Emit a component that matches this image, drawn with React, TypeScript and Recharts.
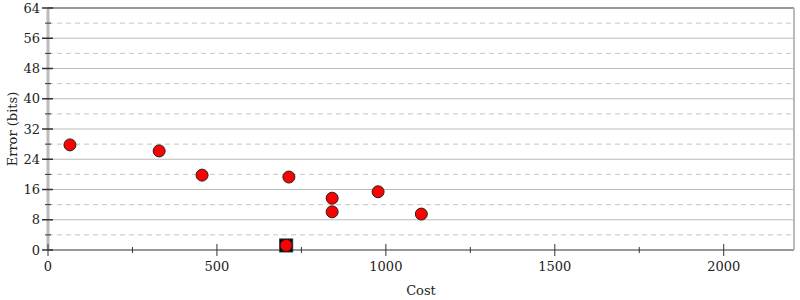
import React from 'react';
import { ScatterChart, Scatter, XAxis, YAxis, ReferenceLine } from 'recharts';

const costs = [65, 329, 456, 713, 841, 841, 977, 1105, 705];
const errors = [27.8, 26.2, 19.8, 19.3, 13.7, 10.1, 15.4, 9.5, 1.2];
const bestCost = [705];
const bestError = [1.2];

const xTicks = [0, 250, 500, 750, 1000, 1250, 1500, 1750, 2000];
const xLabels = [0, 500, 1000, 1500, 2000];
const yTicks = [0, 4, 8, 12, 16, 20, 24, 28, 32, 36, 40, 44, 48, 52, 56, 60, 64];
const yMajor = [0, 8, 16, 24, 32, 40, 48, 56, 64];
const yMinor = [4, 12, 20, 28, 36, 44, 52, 60];

const points = costs.map((c, i) => ({ cost: c, error: errors[i] }));
const best = bestCost.map((c, i) => ({ cost: c, error: bestError[i] }));

const FONT = 'DejaVu Serif, serif';
const TICK = '#333';

const LeftTick = (props: any) => {
  const { y, payload } = props;
  const major = yMajor.includes(payload.value);
  return (
    <g>
      <line x1={major ? 42 : 45} x2={major ? 53 : 51} y1={y} y2={y} stroke={TICK} strokeWidth={major ? 1.5 : 1} />
      {major && (
        <text x={40} y={y} textAnchor="end" dominantBaseline="central" fontFamily={FONT} fontSize={13} fill="#222">
          {payload.value}
        </text>
      )}
    </g>
  );
};

const RightTick = (props: any) => {
  const { y, payload } = props;
  const major = yMajor.includes(payload.value);
  return <line x1={major ? 789 : 791} x2={major ? 800 : 797} y1={y} y2={y} stroke={TICK} strokeWidth={major ? 1.5 : 1} />;
};

const BottomTick = (props: any) => {
  const { x, payload } = props;
  const major = xLabels.includes(payload.value);
  return (
    <g>
      <line x1={x} x2={x} y1={major ? 244 : 247} y2={major ? 256 : 253} stroke={TICK} strokeWidth={1} />
      {major && (
        <text x={x} y={266} textAnchor="middle" dominantBaseline="central" fontFamily={FONT} fontSize={13} fill="#222">
          {payload.value}
        </text>
      )}
    </g>
  );
};

const Dot = (props: any) => (
  <circle cx={props.cx} cy={props.cy} r={6} fill="#ff0000" stroke="#222" strokeWidth={1} />
);

const Square = (props: any) => (
  <rect x={props.cx - 6.5} y={props.cy - 6.5} width={13} height={13} fill="#000" stroke="#333" strokeWidth={1} />
);

const App = () => {
  return (
    <div style={{ position: 'absolute', left: 0, top: 0, width: 800, height: 300, background: '#fff' }}>
      <ScatterChart width={800} height={300} margin={{ top: 8, right: 0, bottom: 0, left: 0 }}>
        {yMinor.map((v) => (
          <ReferenceLine key={'m' + v} y={v} stroke="#c4c4c4" strokeDasharray="5 4" />
        ))}
        {yMajor.map((v) => (
          <ReferenceLine key={'M' + v} y={v} stroke={v === 64 ? '#999' : '#bbb'} strokeWidth={v === 64 ? 2 : 1} />
        ))}
        <XAxis
          type="number"
          dataKey="cost"
          domain={[0, 2208]}
          ticks={xTicks}
          interval={0}
          height={50}
          tickLine={false}
          tick={<BottomTick />}
          axisLine={{ stroke: '#999', strokeWidth: 2 }}
          label={{
            content: () => (
              <text x={421} y={290} textAnchor="middle" dominantBaseline="central" fontFamily={FONT} fontSize={13} fill="#222">
                Cost
              </text>
            ),
          }}
        />
        <YAxis
          type="number"
          dataKey="error"
          domain={[0, 64]}
          ticks={yTicks}
          interval={0}
          width={48}
          tickLine={false}
          tick={<LeftTick />}
          axisLine={{ stroke: '#bbb', strokeWidth: 3 }}
          label={{
            content: () => (
              <text x={12} y={129} transform="rotate(-90 12 129)" textAnchor="middle" dominantBaseline="central" fontFamily={FONT} fontSize={13} fill="#222">
                Error (bits)
              </text>
            ),
          }}
        />
        <YAxis
          yAxisId="right"
          orientation="right"
          type="number"
          domain={[0, 64]}
          ticks={yTicks}
          interval={0}
          width={6}
          tickLine={false}
          tick={<RightTick />}
          axisLine={{ stroke: '#bbb', strokeWidth: 2 }}
        />
        <Scatter data={best} shape={<Square />} isAnimationActive={false} />
        <Scatter data={points} shape={<Dot />} isAnimationActive={false} />
      </ScatterChart>
    </div>
  );
};

export default App;
